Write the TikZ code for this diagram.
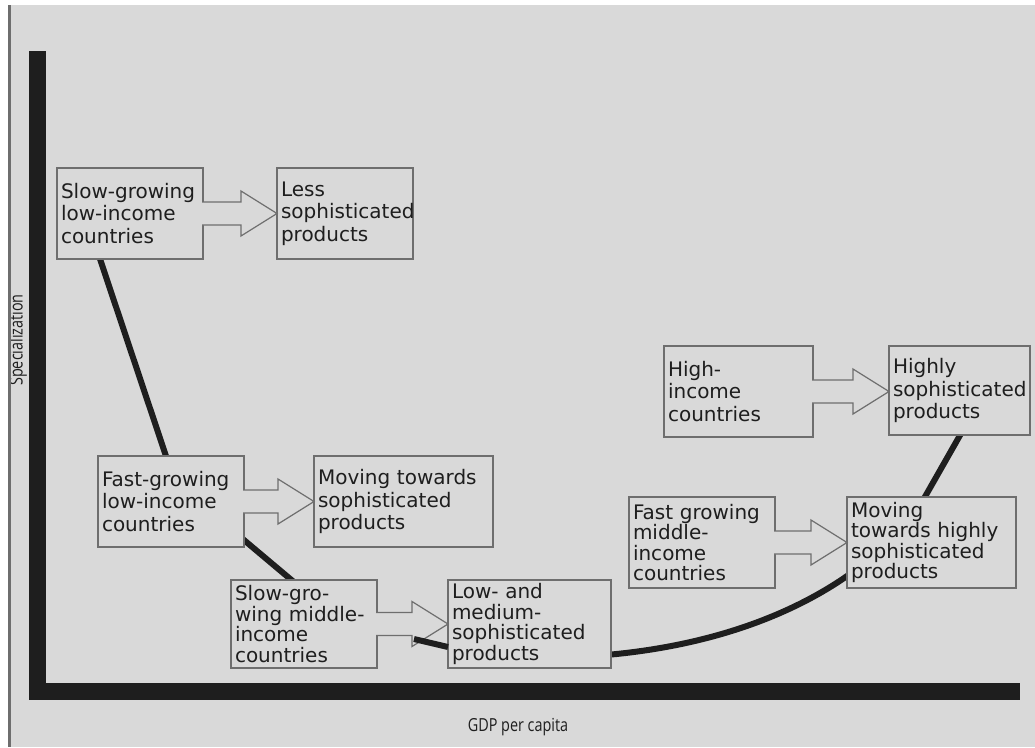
\documentclass[tikz,border=0pt]{standalone}
\usepackage{fontspec}
\setsansfont{DejaVu Sans}
\newfontfamily\labelfont{Open Sans}
\usetikzlibrary{calc,backgrounds}

\definecolor{paper}{HTML}{D9D9D9}
\definecolor{frame}{HTML}{6E6E6E}
\definecolor{ink}{HTML}{1E1E1E}

\newcommand{\squeeze}[1]{\scalebox{0.8}[1]{#1}}
\newcommand{\boxfont}[1]{\sffamily\fontsize{20}{#1}\selectfont\hyphenpenalty=10000\exhyphenpenalty=10000}

% block arrow from the east side of #1 to the west side of #2
\newcommand{\fatarrow}[2]{%
  \filldraw[fat] let \p1=(#1.east), \p2=(#2.west) in
    (\x1-1pt,\y1+11.5pt) -- (\x2-36pt,\y1+11.5pt) -- (\x2-36pt,\y1+22.5pt)
    -- (\x2,\y1) -- (\x2-36pt,\y1-22.5pt) -- (\x2-36pt,\y1-11.5pt)
    -- (\x1-1pt,\y1-11.5pt);}

\begin{document}
\begin{tikzpicture}[x=1pt, y=-1pt, font=\boxfont{22.5}]
    \tikzstyle{box} = [rectangle, draw=frame, line width=1.5pt, fill=paper, text=ink, align=left, inner xsep=4pt, inner ysep=0pt, outer sep=0pt, minimum height=91pt]
    \tikzstyle{tight} = [minimum height=88pt, font=\boxfont{20.5}]
    \tikzstyle{fat} = [draw=frame, line width=1.2pt, fill=paper, line join=miter]
    \tikzstyle{trend} = [line width=6pt, draw=ink]
    \tikzstyle{axislabel} = [text=ink, font=\labelfont\fontsize{18}{20}\selectfont]

    \useasboundingbox (0,0) rectangle (1035,747);

    % axes
    \fill[ink] (29,51) rectangle (46,700);
    \fill[ink] (29,683) rectangle (1020,700);
    \node[axislabel] (xlabel) at (518,727) {\squeeze{GDP per capita}};
    \begin{scope}
        \clip (11,5) rectangle (1035,747);
        \node[axislabel, rotate=90] (ylabel) at (18,340) {\squeeze{Specialization}};
    \end{scope}

    % boxes
    \node (slowlow) [box, text width=138pt] at (130,213.5) {Slow-growing\\low-income\\countries};
    \node (lessgoods) [box, text width=128pt] at (345,213.5) {Less\\sophisticated\\products};
    \node (fastlow) [box, text width=138pt] at (171,501.5) {Fast-growing\\low-income\\countries};
    \node (towardsgoods) [box, text width=171pt] at (403.5,501.5) {Moving towards\\sophisticated\\products};
    \node (slowmid) [box, tight, text width=138pt] at (304,624) {Slow-gro-\\wing middle-\\income\\countries};
    \node (lowmed) [box, tight, text width=155pt] at (529.5,624) {Low- and\\medium-\\sophisticated\\products};
    \node (highinc) [box, text width=141pt] at (738.5,391.5) {High-\\income\\countries};
    \node (highgoods) [box, text width=133pt, minimum height=89pt] at (959.5,390.5) {Highly\\sophisticated\\products};
    \node (fastmid) [box, tight, text width=138pt, minimum height=91pt] at (702,542.5) {Fast growing\\middle-\\income\\countries};
    \node (towardshigh) [box, tight, text width=161pt, minimum height=91pt] at (931.5,542.5) {Moving\\towards highly\\sophisticated\\products};

    % block arrows
    \fatarrow{slowlow}{lessgoods}
    \fatarrow{fastlow}{towardsgoods}
    \fatarrow{slowmid}{lowmed}
    \fatarrow{highinc}{highgoods}
    \fatarrow{fastmid}{towardshigh}

    \coordinate (dip) at (414,639);
    \draw[trend] (dip) -- ([yshift=-23pt]lowmed.west);

    % trend curve behind the boxes
    \begin{scope}[on background layer]
        \fill[paper] (8,5) rectangle (1035,747);
        \draw[frame, line width=2.5pt] (9.5,5) -- (9.5,747);
        \draw[trend] ([xshift=43pt]slowlow.south west) -- ([xshift=68pt]fastlow.north west);
        \draw[trend] ([xshift=-6pt,yshift=12pt]fastlow.south east) -- ([xshift=70pt,yshift=-8pt]slowmid.north west);
        \draw[trend] ([xshift=-5pt,yshift=-31pt]lowmed.east) .. controls (720,645) and (800,610) .. ([xshift=5pt,yshift=-30pt]towardshigh.west);
        \draw[trend] ([xshift=75pt,yshift=-5pt]towardshigh.north west) -- ([xshift=74pt,yshift=5pt]highgoods.south west);
    \end{scope}
\end{tikzpicture}
\end{document}
